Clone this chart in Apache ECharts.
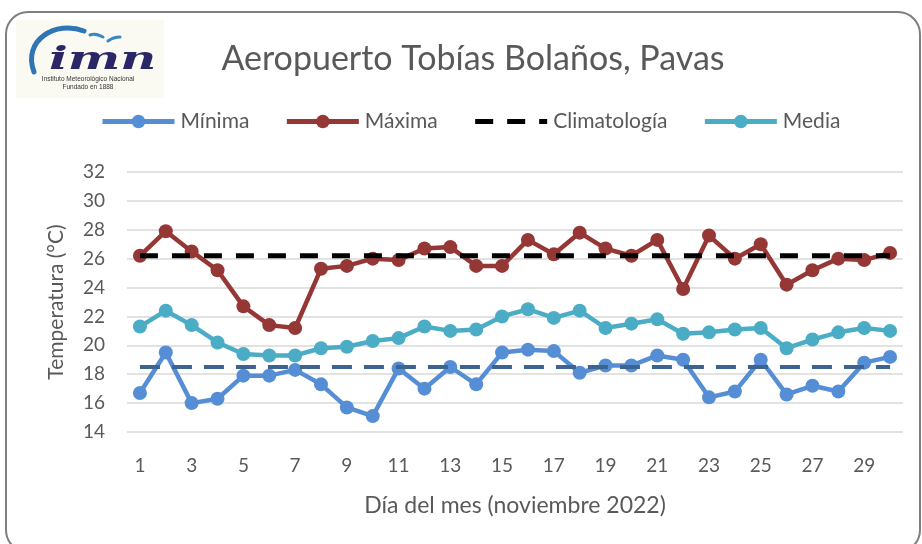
<!DOCTYPE html>
<html>
<head>
<meta charset="utf-8">
<script src="https://cdn.jsdelivr.net/npm/echarts@6/dist/echarts.min.js"></script>
<style>
  html, body { margin: 0; padding: 0; background: #fff; }
  #chart { width: 922px; height: 544px; }
</style>
</head>
<body>
<div id="chart"></div>
<script>
// días del mes
const dias = ['1','2','3','4','5','6','7','8','9','10','11','12','13','14','15',
  '16','17','18','19','20','21','22','23','24','25','26','27','28','29','30'];

const minima = [16.7, 19.5, 16.0, 16.3, 17.9, 17.9, 18.3, 17.3, 15.7, 15.1,
  18.4, 17.0, 18.5, 17.3, 19.5, 19.7, 19.6, 18.1, 18.6, 18.6,
  19.3, 19.0, 16.4, 16.8, 19.0, 16.6, 17.2, 16.8, 18.8, 19.2];

const maxima = [26.2, 27.9, 26.5, 25.2, 22.7, 21.4, 21.2, 25.3, 25.5, 26.0,
  25.9, 26.7, 26.8, 25.5, 25.5, 27.3, 26.3, 27.8, 26.7, 26.2,
  27.3, 23.9, 27.6, 26.0, 27.0, 24.2, 25.2, 26.0, 25.9, 26.4];

const media = [21.3, 22.4, 21.4, 20.2, 19.4, 19.3, 19.3, 19.8, 19.9, 20.3,
  20.5, 21.3, 21.0, 21.1, 22.0, 22.5, 21.9, 22.4, 21.2, 21.5,
  21.8, 20.8, 20.9, 21.1, 21.2, 19.8, 20.4, 20.9, 21.2, 21.0];

const climMax = [26.2, 26.2, 26.2, 26.2, 26.2, 26.2, 26.2, 26.2, 26.2, 26.2,
  26.2, 26.2, 26.2, 26.2, 26.2, 26.2, 26.2, 26.2, 26.2, 26.2,
  26.2, 26.2, 26.2, 26.2, 26.2, 26.2, 26.2, 26.2, 26.2, 26.2];

const climMin = [18.5, 18.5, 18.5, 18.5, 18.5, 18.5, 18.5, 18.5, 18.5, 18.5,
  18.5, 18.5, 18.5, 18.5, 18.5, 18.5, 18.5, 18.5, 18.5, 18.5,
  18.5, 18.5, 18.5, 18.5, 18.5, 18.5, 18.5, 18.5, 18.5, 18.5];

const txt = '#595959';
const fuente = 'Lato, "Open Sans", sans-serif';

let chart = echarts.init(document.getElementById('chart'));

function serieLinea(nombre, datos, color) {
  return {
    name: nombre,
    type: 'line',
    data: datos,
    symbol: 'circle',
    symbolSize: 14,
    z: 3,
    itemStyle: { color: color },
    lineStyle: { color: color, width: 4.5 }
  };
}

chart.setOption({
  animation: false,
  textStyle: { fontFamily: fuente },
  title: {
    text: 'Aeropuerto Tobías Bolaños, Pavas',
    left: 468,
    textAlign: 'center',
    top: 37,
    textStyle: { fontFamily: fuente, fontSize: 34, fontWeight: 'normal', color: txt }
  },
  graphic: [
    // marco redondeado
    {
      type: 'rect',
      shape: { x: 6, y: 12, width: 914, height: 540, r: 22 },
      style: { fill: 'none', stroke: '#7f7f7f', lineWidth: 2 },
      silent: true
    },
    // logo
    {
      type: 'rect',
      shape: { x: 16, y: 20, width: 148, height: 78 },
      style: { fill: '#fbfaf2' }
    },
    {
      type: 'bezierCurve',
      shape: { x1: 34, y1: 72, cpx1: 22, cpy1: 40, cpx2: 56, cpy2: 20, x2: 84, y2: 31 },
      style: { fill: 'none', stroke: '#2f74b5', lineWidth: 5, lineCap: 'round' }
    },
    {
      type: 'bezierCurve',
      shape: { x1: 90, y1: 35, cpx1: 95, cpy1: 33, cpx2: 99, cpy2: 35, x2: 103, y2: 37 },
      style: { fill: 'none', stroke: '#3a86c6', lineWidth: 3, lineCap: 'round' }
    },
    {
      type: 'bezierCurve',
      shape: { x1: 108, y1: 41, cpx1: 112, cpy1: 38, cpx2: 116, cpy2: 37, x2: 120, y2: 37 },
      style: { fill: 'none', stroke: '#3a86c6', lineWidth: 3, lineCap: 'round' }
    },
    {
      type: 'text',
      x: 49, y: 45,
      scaleX: 1.55,
      style: {
        text: 'imn',
        font: 'italic bold 32px "DejaVu Serif", serif',
        fill: '#2b2666'
      }
    },
    {
      type: 'text',
      x: 88, y: 76,
      style: {
        text: 'Instituto Meteorológico Nacional',
        font: '6.5px "Liberation Sans", sans-serif',
        fill: '#333', align: 'center'
      }
    },
    {
      type: 'text',
      x: 88, y: 84,
      style: {
        text: 'Fundado en 1888',
        font: '6.5px "Liberation Sans", sans-serif',
        fill: '#333', align: 'center'
      }
    }
  ],
  legend: {
    data: [
      { name: 'Mínima', lineStyle: { width: 5 } },
      { name: 'Máxima', lineStyle: { width: 5 } },
      { name: 'Climatología', lineStyle: { width: 5 }, itemStyle: { color: 'rgba(0,0,0,0)', borderWidth: 0 } },
      { name: 'Media', lineStyle: { width: 5 } }
    ],
    left: 100,
    top: 111,
    padding: 0,
    itemWidth: 72,
    itemHeight: 17,
    itemGap: 35,
    textStyle: { fontFamily: fuente, fontSize: 21, color: txt, padding: [0, 0, 0, 1] }
  },
  grid: { left: 127, right: 19, top: 172, bottom: 112 },
  xAxis: {
    type: 'category',
    data: dias,
    boundaryGap: true,
    name: 'Día del mes (noviembre 2022)',
    nameLocation: 'middle',
    nameGap: 62,
    nameTextStyle: { fontFamily: fuente, fontSize: 23, color: txt },
    axisLine: { show: false },
    axisTick: { show: false },
    axisLabel: { interval: 1, fontSize: 19, color: txt, margin: 24, fontFamily: fuente }
  },
  yAxis: {
    type: 'value',
    min: 14,
    max: 32,
    interval: 2,
    name: 'Temperatura (°C)',
    nameLocation: 'middle',
    nameGap: 60,
    nameTextStyle: { fontFamily: fuente, fontSize: 21, color: txt },
    axisLabel: { fontSize: 19, color: txt, margin: 22, fontFamily: fuente },
    splitLine: { lineStyle: { color: '#d9d9d9', width: 1.5 } }
  },
  series: [
    serieLinea('Mínima', minima, '#558ed5'),
    serieLinea('Máxima', maxima, '#953735'),
    {
      name: 'Climatología',
      type: 'line',
      data: climMax,
      symbol: 'none',
      z: 4,
      itemStyle: { color: '#000' },
      lineStyle: { color: '#000', width: 5, type: [18, 14] }
    },
    serieLinea('Media', media, '#4bacc6'),
    {
      name: 'Climatología mínima',
      type: 'line',
      data: climMin,
      symbol: 'none',
      z: 4,
      itemStyle: { color: '#3d6491' },
      lineStyle: { color: '#3d6491', width: 4, type: [20, 12] }
    }
  ]
});
</script>
</body>
</html>
